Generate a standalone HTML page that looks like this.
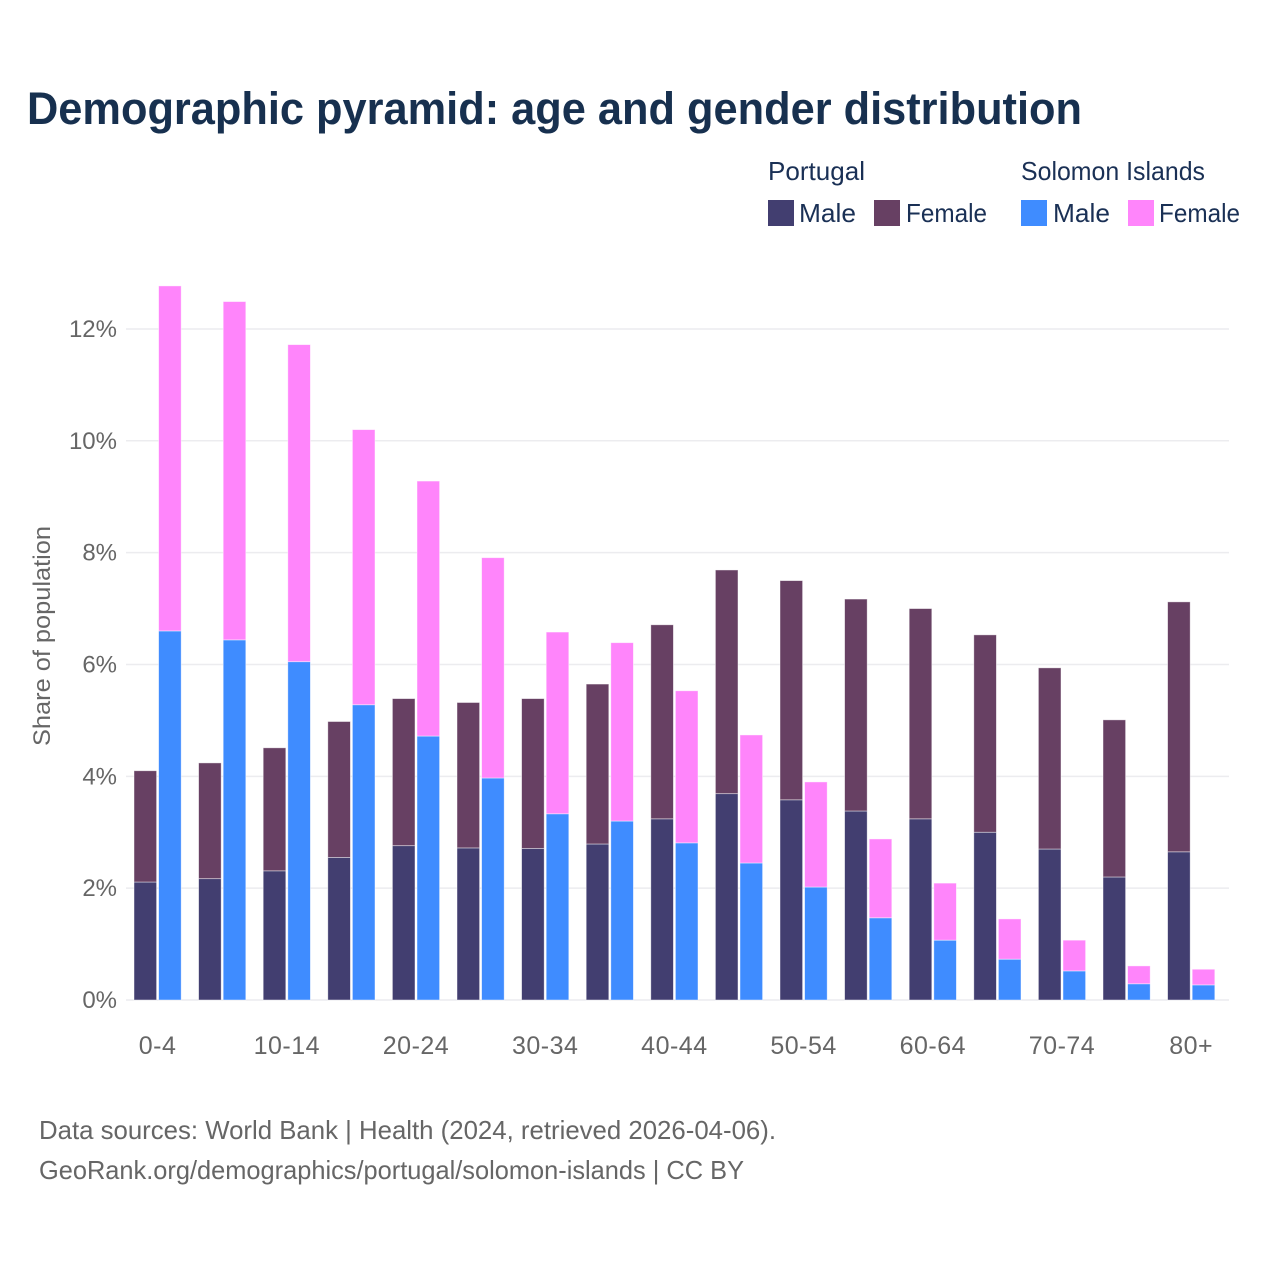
<!DOCTYPE html>
<html lang="en">
<head>
<meta charset="utf-8">
<title>Demographic pyramid: age and gender distribution</title>
<style>
html,body{margin:0;padding:0;background:#fff;}
svg{display:block;font-family:"Liberation Sans",sans-serif;}
</style>
</head>
<body>
<svg id="chart" xmlns="http://www.w3.org/2000/svg" width="1280" height="1280" viewBox="0 0 1280 1280">
  <rect x="0" y="0" width="1280" height="1280" fill="#ffffff"/>
  <text x="27" y="124" font-size="45" font-weight="700" fill="#17304f" textLength="1055" lengthAdjust="spacingAndGlyphs">Demographic pyramid: age and gender distribution</text>

  <g font-size="26" fill="#1a3055">
    <text x="768" y="180" textLength="97" lengthAdjust="spacingAndGlyphs">Portugal</text>
    <text x="1021" y="180" textLength="184" lengthAdjust="spacingAndGlyphs">Solomon Islands</text>
    <g>
      <rect x="768" y="200" width="26" height="26" fill="#423e70"/>
      <text x="799" y="222" textLength="57" lengthAdjust="spacingAndGlyphs">Male</text>
    </g>
    <g>
      <rect x="874" y="200" width="26" height="26" fill="#674063"/>
      <text x="906" y="222" textLength="81" lengthAdjust="spacingAndGlyphs">Female</text>
    </g>
    <g>
      <rect x="1021" y="200" width="26" height="26" fill="#3f8cff"/>
      <text x="1053" y="222" textLength="57" lengthAdjust="spacingAndGlyphs">Male</text>
    </g>
    <g>
      <rect x="1128" y="200" width="26" height="26" fill="#ff85fb"/>
      <text x="1159" y="222" textLength="81" lengthAdjust="spacingAndGlyphs">Female</text>
    </g>
  </g>

  <g id="grid"></g>
  <g id="yticks"></g>
  <g id="bars"></g>
  <g id="xticks"></g>

  <text transform="translate(50,636) rotate(-90)" text-anchor="middle" font-size="24" fill="#666666" textLength="220" lengthAdjust="spacingAndGlyphs">Share of population</text>

  <text x="39" y="1139" font-size="26" fill="#666666" textLength="737" lengthAdjust="spacingAndGlyphs">Data sources: World Bank | Health (2024, retrieved 2026-04-06).</text>
  <text x="39" y="1179" font-size="26" fill="#666666" textLength="705" lengthAdjust="spacingAndGlyphs">GeoRank.org/demographics/portugal/solomon-islands | CC BY</text>
</svg>
<script>
const categories = ["0-4","5-9","10-14","15-19","20-24","25-29","30-34","35-39","40-44","45-49","50-54","55-59","60-64","65-69","70-74","75-79","80+"];
const portugalMale = [2.11,2.17,2.31,2.55,2.76,2.72,2.71,2.79,3.24,3.69,3.58,3.38,3.24,3.00,2.70,2.20,2.65];
const portugalFemale = [1.99,2.07,2.20,2.43,2.63,2.60,2.68,2.86,3.47,4.00,3.92,3.79,3.76,3.53,3.24,2.81,4.47];
const solomonMale = [6.60,6.44,6.05,5.28,4.72,3.97,3.33,3.20,2.81,2.45,2.02,1.47,1.07,0.73,0.52,0.29,0.27];
const solomonFemale = [6.17,6.05,5.67,4.92,4.56,3.94,3.25,3.19,2.72,2.29,1.88,1.41,1.02,0.72,0.55,0.32,0.28];
const yTickValues = [0,2,4,6,8,10,12];
const yTickLabels = ["0%","2%","4%","6%","8%","10%","12%"];
const xTickLabels = ["0-4","10-14","20-24","30-34","40-44","50-54","60-64","70-74","80+"];

const NS = "http://www.w3.org/2000/svg";
const plotLeft = 126, plotRight = 1229, baseY = 1000, pxPerUnit = 55.92;
const groupStart = 134, groupStep = 64.6, barW = 22.6, barGap = 2.0;
const yScale = v => baseY - v * pxPerUnit;
const xBand = i => groupStart + i * groupStep;

function make(tag, attrs) {
  const el = document.createElementNS(NS, tag);
  for (const k in attrs) el.setAttribute(k, attrs[k]);
  return el;
}

const grid = document.getElementById("grid");
const yticks = document.getElementById("yticks");
yTickValues.forEach((v, i) => {
  const line = make("line", {x1: plotLeft, x2: plotRight, y1: yScale(v), y2: yScale(v), stroke: "#ececef", "stroke-width": 1.5});
  
  
  grid.appendChild(line);
  const t = make("text", {x: 117, y: yScale(v) + 8, "text-anchor": "end", "font-size": 24, fill: "#666666"});
  t.textContent = yTickLabels[i];
  
  
  yticks.appendChild(t);
});

const bars = document.getElementById("bars");
function addBar(x, v0, v1, fill, name) {
  const r = make("rect", {x: x, y: yScale(v1), width: barW, height: yScale(v0) - yScale(v1), fill: fill, stroke: "#ffffff", "stroke-opacity": 0.55, "stroke-width": 0.8});
  
  
  bars.appendChild(r);
}
categories.forEach((c, i) => {
  const x1 = xBand(i), x2 = x1 + barW + barGap;
  addBar(x1, 0, portugalMale[i], "#423e70", "bar-portugal-male");
  addBar(x1, portugalMale[i], portugalMale[i] + portugalFemale[i], "#674063", "bar-portugal-female");
  addBar(x2, 0, solomonMale[i], "#3f8cff", "bar-solomon-male");
  addBar(x2, solomonMale[i], solomonMale[i] + solomonFemale[i], "#ff85fb", "bar-solomon-female");
});

const xticks = document.getElementById("xticks");
xTickLabels.forEach(lbl => {
  const i = categories.indexOf(lbl);
  const t = make("text", {x: xBand(i) + barW + barGap / 2, y: 1054, "text-anchor": "middle", "font-size": 25, "letter-spacing": 0.5, fill: "#666666"});
  t.textContent = lbl;
  
  
  xticks.appendChild(t);
});
</script>
</body>
</html>
